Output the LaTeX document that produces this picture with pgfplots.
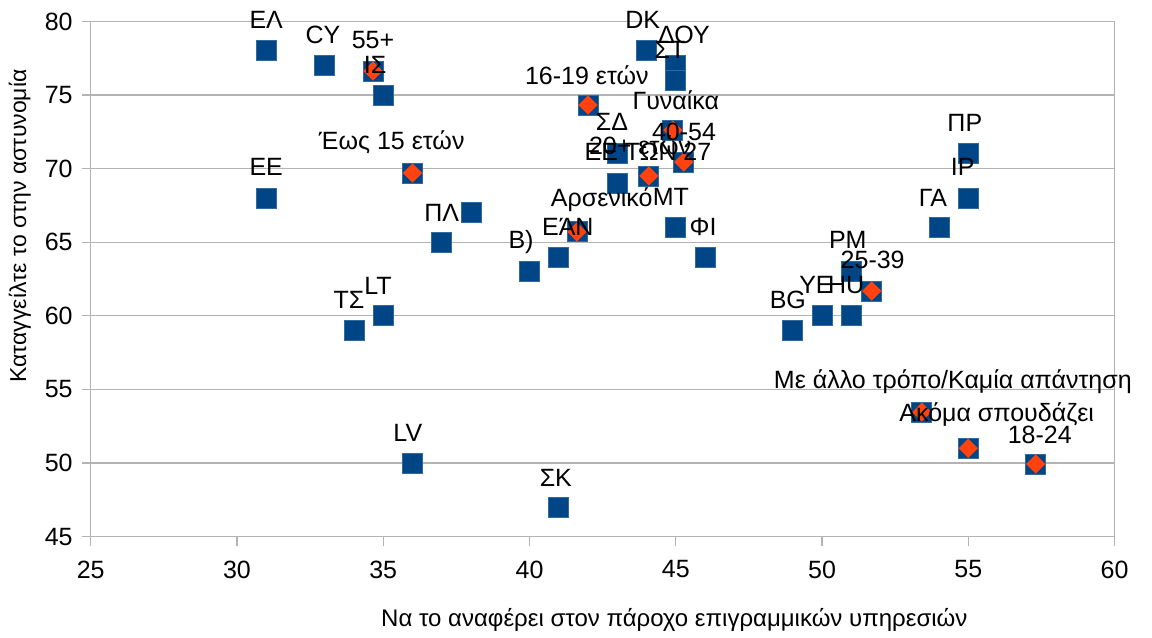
\documentclass[border=0pt]{standalone}
\usepackage{pgfplots}
\pgfplotsset{compat=1.18}
\usepackage{fontspec}
\setmainfont{Liberation Sans}
\usetikzlibrary{calc}
\definecolor{sqblue}{HTML}{004586}
\definecolor{dmorange}{HTML}{FF420E}
\definecolor{gridgray}{HTML}{B3B3B3}
\newcommand{\lbl}{\fontsize{12.5}{14}\selectfont}

\begin{document}
\begin{tikzpicture}
\begin{axis}[
    set layers,
    scale only axis, width=512pt, height=257.6pt,
    xmin=25, xmax=60, ymin=45, ymax=80,
    xtick distance=5, ytick distance=5,
    ymajorgrids, grid style={gridgray, line width=0.6pt},
    axis line style={gridgray, line width=0.6pt},
    tick style={gridgray, line width=0.6pt},
    tick align=outside, major tick length=4.5pt,
    xtick pos=bottom, ytick pos=left,
    /pgf/number format/assume math mode=true,
    tick label style={font=\fontsize{12.5}{14}\selectfont},
    xticklabel style={yshift=-4pt},
    yticklabel style={xshift=-1pt},
    clip=false,
    xlabel={Να το αναφέρει στον πάροχο επιγραμμικών υπηρεσιών},
    ylabel={Καταγγείλτε το στην αστυνομία},
    xlabel style={font=\fontsize{12}{14}\selectfont, at={(rel axis cs:0.57,0)}, anchor=center, yshift=-41.7pt},
    ylabel style={font=\fontsize{11.5}{13}\selectfont, at={(rel axis cs:0,0.603)}, anchor=center, yshift=35.4pt},
]
% all points (blue squares)
\addplot[only marks, mark=square*, mark size=5pt,
    mark options={fill=sqblue, draw=sqblue!80!white, line width=0.4pt}]
coordinates {
(31,78) (33,77) (34.65,76.63) (35,75) (31,68) (36,69.7) (37,65) (38,67)
(34,59) (35,60) (36,50) (40,63) (41,64) (41.62,65.7) (41,47) (42,74.32)
(44,78) (45,77) (45,76) (44.9,72.62) (43,71) (45.27,70.45) (44.08,69.5)
(43,69) (45,66) (46,64) (55,71) (55,68) (54,66) (51,63) (51.7,61.68)
(49,59) (50,60) (51,60) (53.41,53.46) (55,51) (57.3,49.93)
};
% sociodemographic groups (orange diamonds)
\addplot[only marks, mark=square*, mark size=3.2pt,
    mark options={fill=dmorange, draw=dmorange, rotate=45}]
coordinates {
(34.65,76.63) (36,69.7) (41.62,65.7) (42,74.32) (44.9,72.62) (45.27,70.45)
(44.08,69.5) (51.7,61.68) (53.41,53.46) (55,51) (57.3,49.93)
};
\coordinate (sw) at (rel axis cs:0,0);
\coordinate (ne) at (rel axis cs:1,1);
\begin{pgfonlayer}{axis foreground}
\begin{scope}[every node/.style={font=\lbl, inner sep=0pt}]
\node at (axis cs:31,80.1) {ΕΛ};
\node at (axis cs:32.94,79.08) {CY};
\node at (axis cs:34.65,78.74) {55+};
\node at (axis cs:34.72,77.04) {ΙΣ};
\node at (axis cs:31,70.1) {ΕΕ};
\node at (axis cs:35.29,71.8) {Έως 15 ετών};
\node at (axis cs:37,66.98) {ΠΛ};
\node at (axis cs:33.83,61.07) {ΤΣ};
\node at (axis cs:34.82,62.02) {LT};
\node at (axis cs:35.84,52.04) {LV};
\node at (axis cs:39.71,65.01) {Β)};
\node at (axis cs:42.47,67.87) {Αρσενικό};
\node at (axis cs:41.31,66.03) {ΕΆΝ};
\node at (axis cs:40.9,48.97) {ΣΚ};
\node at (axis cs:41.96,76.36) {16-19 ετών};
\node at (axis cs:43.87,80.1) {DK};
\node at (axis cs:45.28,79.08) {ΔΟΥ};
\node at (axis cs:44.8,78.06) {ΣΤ};
\node at (axis cs:45.0,74.66) {Γυναίκα};
\node at (axis cs:42.82,73.16) {ΣΔ};
\node at (axis cs:45.28,72.48) {40-54};
\node at (axis cs:43.78,71.6) {20+ ετών};
\node at (axis cs:44.05,71.13) {ΕΕ ΤΩΝ 27};
\node at (axis cs:44.83,68.07) {ΜΤ};
\node at (axis cs:45.93,66.03) {ΦΙ};
\node at (axis cs:54.88,73.1) {ΠΡ};
\node at (axis cs:54.81,70.1) {ΙΡ};
\node at (axis cs:53.79,68.0) {ΓΑ};
\node at (axis cs:50.88,65.15) {PM};
\node at (axis cs:51.73,63.79) {25-39};
\node at (axis cs:48.83,61.07) {BG};
\node at (axis cs:49.79,62.09) {ΥΕ};
\node at (axis cs:50.82,62.09) {HU};
\node at (axis cs:54.47,55.51) {Με άλλο τρόπο/Καμία απάντηση};
\node at (axis cs:55.97,53.27) {Ακόμα σπουδάζει};
\node at (axis cs:57.44,51.91) {18-24};
\end{scope}
\end{pgfonlayer}
\end{axis}
\pgfresetboundingbox
\path ($(sw)+(-45.35pt,-50.7pt)$) rectangle ($(ne)+(18.7pt,10.7pt)$);
\end{tikzpicture}
\end{document}
